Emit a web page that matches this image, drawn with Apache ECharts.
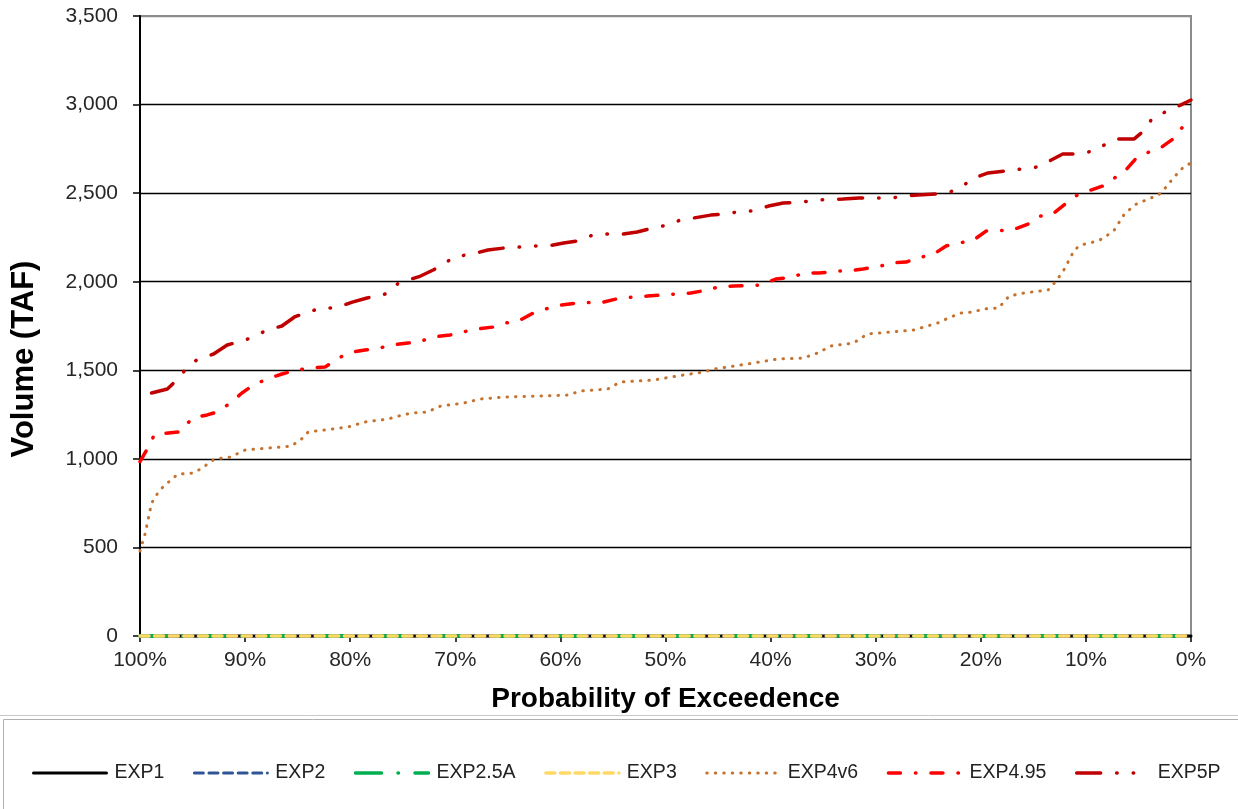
<!DOCTYPE html>
<html><head><meta charset="utf-8">
<script src="https://cdn.jsdelivr.net/npm/echarts@6/dist/echarts.min.js"></script>
<style>html,body{margin:0;padding:0;background:#fff}#c{width:1238px;height:809px}</style>
</head><body><div id="c"></div>
<script>
const seriesNames = ['EXP1', 'EXP2', 'EXP2.5A', 'EXP3', 'EXP4v6', 'EXP4.95', 'EXP5P'];

// EXP1, EXP2, EXP2.5A, EXP3 are all zero
const zeroProb = [100, 0];
const zeroVol = [0, 0];

const exp4v6Prob = [100, 99.5, 99.2, 98.9, 98.5, 98.1, 97.5, 96.4, 94.9, 94.1, 92.9, 91.4, 90, 85.6, 84.5, 84, 82.4, 80.2, 78.6, 76.4, 75, 74.1, 72.7, 71.4, 69.2, 67.6, 65.4, 59.3, 58.1, 55.5, 54.3, 51.1, 48.9, 46.4, 45.4, 41.6, 39.3, 36.9, 35.5, 34.3, 32.1, 30.8, 28.6, 26.4, 24.1, 23.1, 21.9, 20.7, 19.8, 18.3, 17.3, 15.9, 13.6, 13.0, 12.2, 11.1, 10.5, 8.9, 8.3, 7.3, 6.4, 5.4, 3.8, 3.1, 2.6, 1.6, 0.7, 0];
const exp4v6Vol = [480, 580, 665, 750, 790, 825, 858, 914, 920, 948, 999, 1010, 1050, 1072, 1118, 1152, 1163, 1180, 1208, 1225, 1248, 1259, 1264, 1298, 1315, 1338, 1349, 1360, 1383, 1394, 1434, 1445, 1468, 1490, 1507, 1541, 1564, 1569, 1598, 1637, 1654, 1705, 1716, 1727, 1767, 1795, 1823, 1829, 1846, 1852, 1919, 1936, 1953, 1993, 2055, 2179, 2207, 2230, 2247, 2292, 2376, 2433, 2473, 2490, 2518, 2591, 2648, 2670];

const exp495Prob = [100, 99.2, 98.6, 97.3, 96.2, 95.0, 93.6, 92.7, 91.4, 90.3, 89.2, 87.9, 86.5, 85.4, 84, 82.4, 81.4, 80.2, 78.6, 77.6, 76, 74.5, 73.5, 72.1, 70.5, 69.3, 67.9, 66.4, 65.2, 64, 62.6, 61.4, 60, 58.4, 55.9, 54.3, 51.7, 49.0, 47.6, 46, 45.0, 43.5, 41.0, 39.5, 37.8, 36.9, 35.4, 33.6, 32.7, 31.2, 29.5, 28.6, 27.1, 25.7, 24.6, 23.3, 21.6, 20.8, 19.5, 17.0, 15.5, 14.3, 13.3, 12.1, 10.8, 9.8, 8.4, 7.0, 6.2, 5.2, 4.0, 2.9, 1.7, 0.8, 0];
const exp495Vol = [985, 1067, 1140, 1146, 1152, 1231, 1248, 1264, 1315, 1372, 1417, 1451, 1479, 1496, 1513, 1518, 1558, 1598, 1615, 1620, 1643, 1654, 1660, 1688, 1699, 1716, 1733, 1744, 1767, 1778, 1823, 1846, 1868, 1880, 1885, 1908, 1919, 1931, 1936, 1953, 1970, 1976, 1981, 2015, 2027, 2049, 2049, 2060, 2060, 2072, 2089, 2106, 2111, 2139, 2151, 2202, 2224, 2230, 2286, 2292, 2326, 2371, 2376, 2433, 2490, 2512, 2540, 2597, 2631, 2698, 2732, 2755, 2806, 2873, 2918];

const exp5pProb = [98.9, 97.4, 96.4, 95.7, 95.0, 94.6, 93.0, 91.7, 90.3, 89.5, 87.9, 86.5, 85.3, 84, 82.7, 81.4, 79.8, 78.4, 77.0, 76.4, 75.4, 74.8, 73.3, 72.1, 70.8, 70.2, 68.4, 66.9, 65.4, 63.8, 62.6, 61.2, 59.7, 58.3, 56.9, 55.5, 54.1, 52.7, 51.2, 49.8, 48.6, 47.3, 45.7, 44.3, 42.7, 41.7, 40.2, 38.8, 37.1, 35.5, 33.1, 31.6, 28.4, 27.3, 26, 24.3, 22.9, 21.6, 20.7, 19.3, 17.6, 16.2, 14.6, 13.3, 12.2, 10.8, 9.3, 7.9, 7.0, 5.4, 4.5, 3.6, 2.2, 1.0, 0];
const exp5pVol = [1372, 1394, 1451, 1502, 1541, 1558, 1592, 1643, 1665, 1682, 1727, 1750, 1801, 1829, 1852, 1852, 1885, 1908, 1925, 1936, 1993, 2004, 2032, 2066, 2111, 2139, 2156, 2179, 2190, 2196, 2202, 2202, 2218, 2230, 2264, 2269, 2269, 2281, 2303, 2320, 2348, 2360, 2376, 2382, 2399, 2399, 2427, 2444, 2450, 2461, 2467, 2473, 2473, 2484, 2490, 2495, 2506, 2546, 2585, 2614, 2625, 2636, 2648, 2687, 2721, 2721, 2738, 2783, 2806, 2806, 2851, 2930, 2964, 2997, 3026];

function pairs(px, vy) { return px.map((p, i) => [p, vy[i]]); }

const styles = {
  'EXP1':    { color: '#000000', width: 3, type: 'solid' },
  'EXP2':    { color: '#2F5597', width: 3, type: [9, 5.6] },
  'EXP2.5A': { color: '#00B050', width: 3.5, type: [26, 16.5, 0.5, 16.5] },
  'EXP3':    { color: '#FFD966', width: 3.5, type: [9, 5.6] },
  'EXP4v6':  { color: '#C5722F', width: 3, type: [0.5, 8] },
  'EXP4.95': { color: '#FF0000', width: 3.5, type: [12, 15, 0.5, 15] },
  'EXP5P':   { color: '#C00000', width: 3.5, type: [24, 16, 0.5, 16, 0.5, 16] }
};
const dataMap = {
  'EXP1': pairs(zeroProb, zeroVol),
  'EXP2': pairs(zeroProb, zeroVol),
  'EXP2.5A': pairs(zeroProb, zeroVol),
  'EXP3': pairs(zeroProb, zeroVol),
  'EXP4v6': pairs(exp4v6Prob, exp4v6Vol),
  'EXP4.95': pairs(exp495Prob, exp495Vol),
  'EXP5P': pairs(exp5pProb, exp5pVol)
};

const chart = echarts.init(document.getElementById('c'), null, { renderer: 'canvas' });
const labelFont = 'Liberation Sans, Arial, sans-serif';
chart.setOption({
  animation: false,
  backgroundColor: '#ffffff',
  textStyle: { fontFamily: labelFont },
  graphic: [
    { type: 'line', z: -1, shape: { x1: 0, y1: 715.5, x2: 1238, y2: 715.5 }, style: { stroke: '#c8c8c8', lineWidth: 1 } },
    { type: 'rect', z: -1, shape: { x: 3.5, y: 719.5, width: 1240, height: 100 }, style: { fill: 'none', stroke: '#b0b0b0', lineWidth: 1 } }
  ],
  grid: {
    left: 140, right: 47, top: 16, bottom: 173,
    show: true, borderColor: '#8c8c8c', borderWidth: 2, backgroundColor: 'transparent'
  },
  legend: {
    data: seriesNames,
    left: 32, top: 763, padding: 0,
    itemWidth: 73, itemHeight: 14, itemGap: 28.5,
    itemStyle: { opacity: 0, borderWidth: 0, color: 'rgba(0,0,0,0)' },
    lineStyle: { width: 'inherit', type: 'inherit', cap: 'round' },
    textStyle: { fontSize: 19.5, color: '#222', fontFamily: labelFont, padding: [0, 0, 0, 3] }
  },
  xAxis: {
    type: 'value', min: 0, max: 100, interval: 10, inverse: true,
    name: 'Probability of Exceedence', nameLocation: 'middle', nameGap: 49,
    nameTextStyle: { fontSize: 28, fontWeight: 'bold', color: '#000', fontFamily: labelFont },
    axisLine: { show: true, onZero: false, lineStyle: { color: '#000', width: 1.5 } },
    axisTick: { show: true, length: 6, lineStyle: { color: '#000', width: 1.5 } },
    axisLabel: { fontSize: 21, color: '#262626', margin: 14, formatter: v => v + '%' },
    splitLine: { show: false }
  },
  yAxis: {
    type: 'value', min: 0, max: 3500, interval: 500,
    name: 'Volume (TAF)', nameLocation: 'middle', nameGap: 100, nameRotate: 90,
    nameTextStyle: { fontSize: 31, fontWeight: 'bold', color: '#000', fontFamily: labelFont, padding: [0, 66, 0, 0] },
    axisLine: { show: true, onZero: false, lineStyle: { color: '#000', width: 2 } },
    axisTick: { show: true, length: 7, lineStyle: { color: '#000', width: 1.5 } },
    axisLabel: { fontSize: 21, color: '#262626', margin: 22, formatter: v => v.toLocaleString('en-US') },
    splitLine: { show: true, lineStyle: { color: ['#000', '#000', '#000', '#000', '#000', '#000', '#000', '#8c8c8c'], width: 1.3 } }
  },
  series: seriesNames.map(n => ({
    name: n, type: 'line', data: dataMap[n], symbol: 'none', showSymbol: false,
    smooth: false, clip: false,
    lineStyle: { color: styles[n].color, width: styles[n].width, type: styles[n].type, cap: 'round', join: 'round' },
    itemStyle: { color: styles[n].color }
  }))
});
</script></body></html>
